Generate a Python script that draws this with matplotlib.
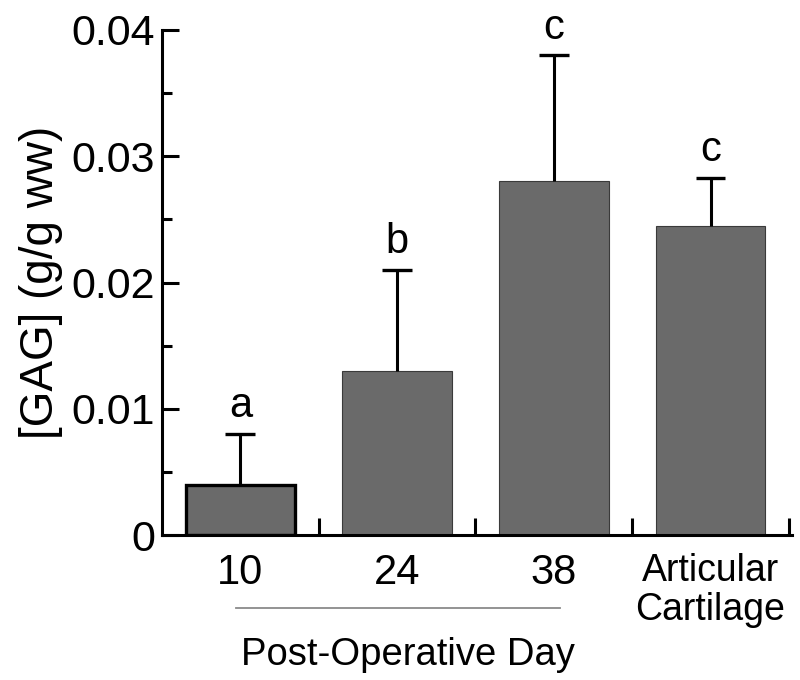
import matplotlib
matplotlib.use("Agg")
import matplotlib.pyplot as plt
from matplotlib.ticker import MultipleLocator, FuncFormatter

plt.rcParams['font.family'] = ['Liberation Sans', 'DejaVu Sans']

categories = ["10", "24", "38", "Articular\nCartilage"]
means = [0.004, 0.013, 0.028, 0.0245]
errors = [0.004, 0.008, 0.010, 0.0038]
letters = ["a", "b", "c", "c"]

fig = plt.figure(figsize=(8, 6.8), dpi=100)
ax = fig.add_axes([0.2025, 0.2132, 0.7875, 0.7427])

x = list(range(len(categories)))
bar_color = "#6a6a6a"
edgecolors = ["black", "#3a3a3a", "#3a3a3a", "#3a3a3a"]
linewidths = [2.4, 0.8, 0.8, 0.8]
ax.bar(x, means, width=0.70, color=bar_color, edgecolor=edgecolors,
       linewidth=linewidths, zorder=2)

tops = [m + e for m, e in zip(means, errors)]
cap_half = 0.095
ax.vlines(x, means, tops, colors='black', linewidth=2.2, zorder=3)
ax.hlines(tops, [xi - cap_half for xi in x], [xi + cap_half for xi in x],
          colors='black', linewidth=2.4, zorder=3)

for xi, t, lab in zip(x, tops, letters):
    ax.text(xi, t + 0.0006, lab, ha='center', va='bottom', fontsize=30)

ax.set_xlim(-0.5, 3.52)
ax.set_ylim(0, 0.04)

for s in ["top", "right"]:
    ax.spines[s].set_visible(False)
for s in ["left", "bottom"]:
    ax.spines[s].set_linewidth(2.2)

ax.yaxis.set_major_locator(MultipleLocator(0.01))
ax.yaxis.set_minor_locator(MultipleLocator(0.005))
ax.yaxis.set_major_formatter(FuncFormatter(lambda v, p: "0" if abs(v) < 1e-12 else f"{v:.2f}"))
ax.tick_params(axis='y', which='major', direction='in', length=12, width=2.2,
               labelsize=31, pad=5)
ax.tick_params(axis='y', which='minor', direction='in', length=7.5, width=2.2)

ax.set_xticks([0.5, 1.5, 2.5, 3.5])
ax.set_xticklabels([])
ax.set_xticks(x, minor=True)
ax.set_xticklabels(categories, minor=True)
ax.tick_params(axis='x', which='major', direction='in', length=12, width=2.2)
ax.tick_params(axis='x', which='minor', length=0, labelsize=30, pad=13)
for lbl in ax.get_xticklabels(minor=True):
    if "\n" in lbl.get_text():
        lbl.set_fontsize(27)
        lbl.set_linespacing(1.1)

ax.set_ylabel("[GAG] (g/g ww)", fontsize=33, labelpad=6)

trans = ax.get_xaxis_transform()
ax.plot([-0.03, 2.04], [-0.1446, -0.1446], transform=trans, color="#8a8a8a",
        lw=1.3, clip_on=False)
ax.text(1.07, -0.238, "Post-Operative Day", transform=trans, ha='center',
        va='center', fontsize=27.5)

fig.savefig("out.png", dpi=100)
